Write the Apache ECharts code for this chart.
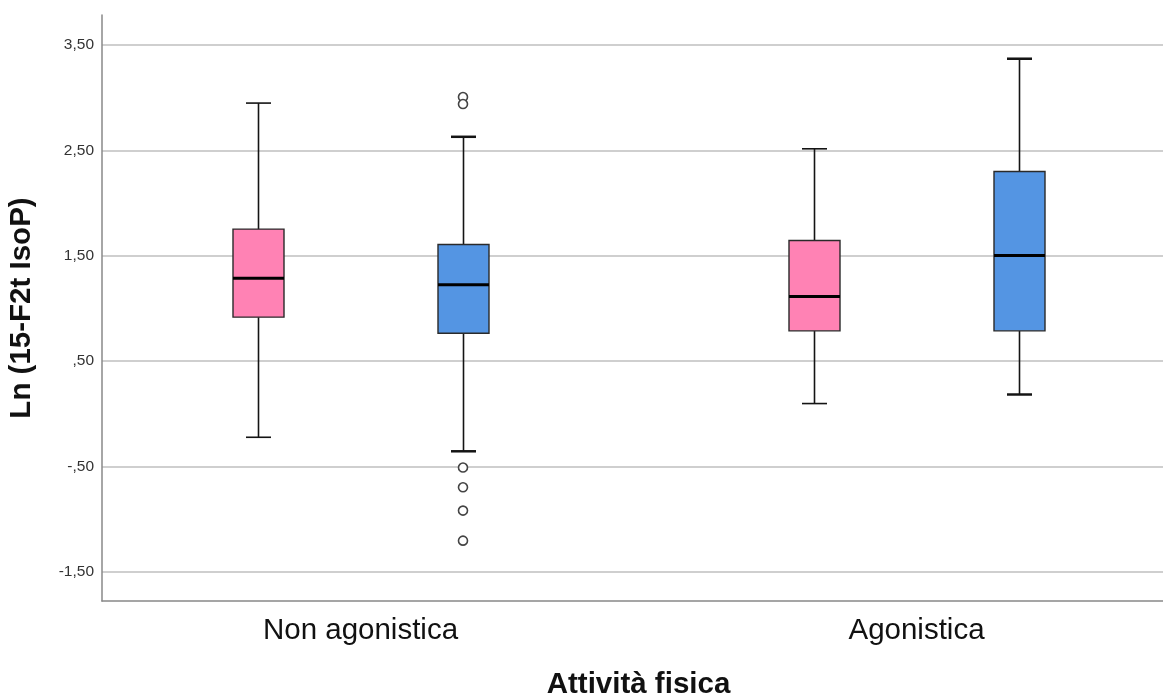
<!DOCTYPE html>
<html>
<head>
<meta charset="utf-8">
<script src="https://cdn.jsdelivr.net/npm/echarts@6/dist/echarts.min.js"></script>
<style>
  html, body { margin: 0; padding: 0; background: #ffffff; }
  #chart { width: 1163px; height: 695px; }
</style>
</head>
<body>
<div id="chart"></div>
<script>
// ---- data ----
const categories = ['Non agonistica', 'Agonistica'];
// [min, Q1, median, Q3, max]
const pinkBoxes = [
  [-0.223, 0.917, 1.287, 1.753, 2.949],
  [0.097, 0.787, 1.113, 1.645, 2.515]
];
const blueBoxes = [
  [-0.356, 0.765, 1.224, 1.607, 2.629],
  [0.183, 0.787, 1.503, 2.300, 3.370]
];
// [category index, value]
const blueOutliers = [
  [0, 3.006], [0, 2.940], [0, -0.510], [0, -0.698], [0, -0.919], [0, -1.204]
];
const yTicks = [-1.5, -0.5, 0.5, 1.5, 2.5, 3.5];
const yTickLabels = ['-1,50', '-,50', ',50', '1,50', '2,50', '3,50'];

// ---- styling / layout constants ----
const PINK = '#FF82B4';
const BLUE = '#5495E3';
const GROUP_OFFSET = 102.5;
const BOX_W = 51;
const CAP_W = 25;
const FONT = 'Liberation Sans, Arial, sans-serif';

function toBoxData(boxes) {
  return boxes.map((b, i) => [i].concat(b));
}

function makeRender(offset, fill, capLW) {
  return function (params, api) {
    const x = api.value(0);
    const pMin = api.coord([x, api.value(1)]);
    const pQ1 = api.coord([x, api.value(2)]);
    const pMed = api.coord([x, api.value(3)]);
    const pQ3 = api.coord([x, api.value(4)]);
    const pMax = api.coord([x, api.value(5)]);
    const cx = Math.round(pMin[0] + offset) + 0.5;
    const hw = BOX_W / 2, cw = CAP_W / 2;
    const wStyle = { stroke: '#141414', lineWidth: 1.6 };
    const cStyle = { stroke: '#141414', lineWidth: capLW };
    return {
      type: 'group',
      children: [
        { type: 'line', shape: { x1: cx, y1: pMax[1], x2: cx, y2: pQ3[1] }, style: wStyle },
        { type: 'line', shape: { x1: cx, y1: pQ1[1], x2: cx, y2: pMin[1] }, style: wStyle },
        { type: 'line', shape: { x1: cx - cw, y1: pMax[1], x2: cx + cw, y2: pMax[1] }, style: cStyle },
        { type: 'line', shape: { x1: cx - cw, y1: pMin[1], x2: cx + cw, y2: pMin[1] }, style: cStyle },
        { type: 'rect', shape: { x: cx - hw, y: pQ3[1], width: BOX_W, height: pQ1[1] - pQ3[1] },
          style: { fill: fill, stroke: '#2a2a2a', lineWidth: 1.4 } },
        { type: 'line', shape: { x1: cx - hw, y1: pMed[1], x2: cx + hw, y2: pMed[1] },
          style: { stroke: '#000000', lineWidth: 3 } }
      ]
    };
  };
}

const chart = echarts.init(document.getElementById('chart'), null, { renderer: 'canvas' });
chart.setOption({
  backgroundColor: '#ffffff',
  animation: false,
  grid: { left: 102, right: 0, top: 15, bottom: 94, containLabel: false, outerBoundsMode: 'none' },
  xAxis: {
    type: 'value',
    min: -0.4649,
    max: 1.4433,
    name: 'Attività fisica',
    nameLocation: 'middle',
    nameGap: 69,
    nameTextStyle: { fontFamily: FONT, fontSize: 29.5, fontWeight: 'bold', color: '#111', padding: [0, 0, 0, 12] },
    axisLine: { show: true, onZero: false, lineStyle: { color: '#888888', width: 1.5 } },
    axisTick: { show: false },
    splitLine: { show: false },
    axisLabel: {
      customValues: [0, 1],
      margin: 15,
      fontFamily: FONT,
      fontSize: 29.5,
      color: '#111',
      formatter: function (v) { return categories[Math.round(v)]; }
    }
  },
  yAxis: {
    type: 'value',
    min: -1.777,
    max: 3.785,
    name: 'Ln (15-F2t IsoP)',
    nameLocation: 'middle',
    nameRotate: 90,
    nameGap: 65,
    nameTextStyle: { fontFamily: FONT, fontSize: 29.5, fontWeight: 'bold', color: '#111' },
    axisLine: { show: true, onZero: false, lineStyle: { color: '#888888', width: 1.5 } },
    axisTick: { show: false, customValues: yTicks },
    splitLine: { show: true, lineStyle: { color: '#cfcfcf', width: 2 } },
    axisLabel: {
      customValues: yTicks,
      margin: 8,
      fontFamily: FONT,
      fontSize: 15.5,
      color: '#333',
      formatter: function (v) {
        const i = yTicks.findIndex(t => Math.abs(t - v) < 1e-6);
        return i >= 0 ? yTickLabels[i] : '';
      }
    }
  },
  series: [
    {
      name: 'pink', type: 'custom', clip: false,
      renderItem: makeRender(-GROUP_OFFSET, PINK, 1.6),
      encode: { x: 0, y: [1, 2, 3, 4, 5] },
      data: toBoxData(pinkBoxes)
    },
    {
      name: 'blue', type: 'custom', clip: false,
      renderItem: makeRender(GROUP_OFFSET, BLUE, 2.5),
      encode: { x: 0, y: [1, 2, 3, 4, 5] },
      data: toBoxData(blueBoxes)
    },
    {
      name: 'outliers', type: 'scatter',
      symbol: 'circle', symbolSize: 9,
      symbolOffset: [GROUP_OFFSET, 0],
      itemStyle: { color: '#ffffff', borderColor: '#444444', borderWidth: 1.6, opacity: 1 },
      data: blueOutliers
    }
  ]
});
</script>
</body>
</html>
